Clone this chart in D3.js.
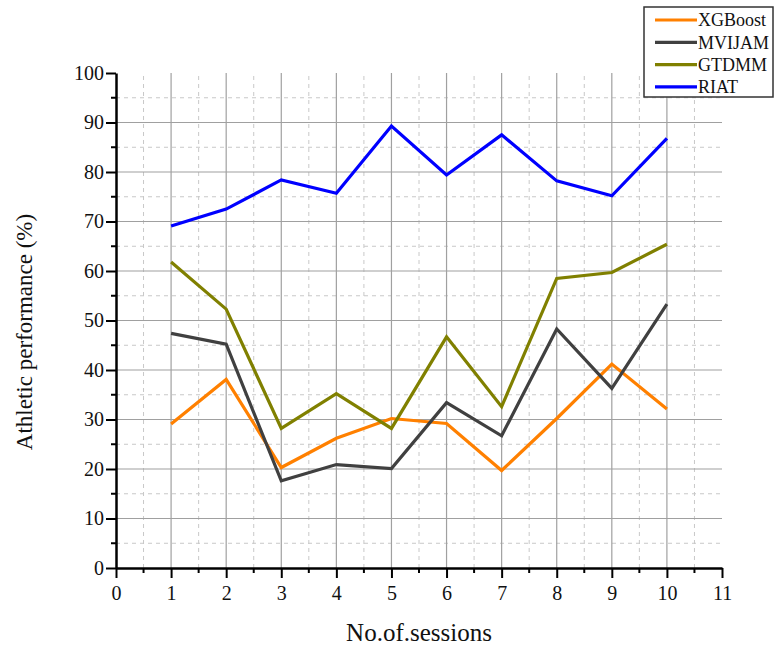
<!DOCTYPE html>
<html>
<head>
<meta charset="utf-8">
<script src="https://cdn.jsdelivr.net/npm/d3@7"></script>
<style>
  body { margin: 0; background: #fff; }
  svg text { font-family: "Liberation Serif", "DejaVu Serif", serif !important; }
</style>
</head>
<body>
<div id="chart"></div>
<script>
// Data
const sessions = [1, 2, 3, 4, 5, 6, 7, 8, 9, 10]
const xgboost = [29.1, 38.1, 20.3, 26.2, 30.2, 29.2, 19.7, 30.2, 41.2, 32.1]
const mvijam = [47.4, 45.2, 17.6, 20.9, 20.1, 33.4, 26.7, 48.3, 36.3, 53.3]
const gtdmm = [61.8, 52.3, 28.2, 35.2, 28.2, 46.7, 32.6, 58.5, 59.7, 65.4]
const riat = [69.1, 72.5, 78.4, 75.7, 89.3, 79.4, 87.5, 78.2, 75.2, 86.8]
const seriesNames = ['XGBoost', 'MVIJAM', 'GTDMM', 'RIAT']
const seriesColors = ['#ff8000', '#404040', '#808000', '#0000ff']
const xTicks = [0, 1, 2, 3, 4, 5, 6, 7, 8, 9, 10, 11]
const yTicks = [0, 10, 20, 30, 40, 50, 60, 70, 80, 90, 100]

const series = [xgboost, mvijam, gtdmm, riat]

const width = 774
const height = 648
const margin = { top: 73, right: 52, bottom: 80, left: 116 }

const svg = d3.select('#chart')
  .append('svg')
    .attr('width', width)
    .attr('height', height)

const x = d3.scaleLinear().domain([0, 11]).range([margin.left, width - margin.right])
const y = d3.scaleLinear().domain([0, 100]).range([height - margin.bottom, margin.top])

// Grid: minor dashed, then major solid
const minorX = d3.range(0.5, 11, 1)
const minorY = d3.range(5, 100, 10)

svg.append('g')
  .selectAll('line')
  .data(minorX)
  .enter()
  .append('line')
    .attr('x1', d => x(d)).attr('x2', d => x(d))
    .attr('y1', y(0)).attr('y2', y(100))
    .attr('stroke', '#c8c8c8')
    .attr('stroke-dasharray', '4,4')

svg.append('g')
  .selectAll('line')
  .data(minorY)
  .enter()
  .append('line')
    .attr('x1', x(0)).attr('x2', x(11))
    .attr('y1', d => y(d)).attr('y2', d => y(d))
    .attr('stroke', '#c8c8c8')
    .attr('stroke-dasharray', '4,4')

svg.append('g')
  .selectAll('line')
  .data(xTicks.filter(d => d > 0 && d < 11))
  .enter()
  .append('line')
    .attr('x1', d => x(d)).attr('x2', d => x(d))
    .attr('y1', y(0)).attr('y2', y(100))
    .attr('stroke', '#a0a0a0')
    .attr('stroke-width', 1.2)

svg.append('g')
  .selectAll('line')
  .data(yTicks.filter(d => d > 0 && d < 100))
  .enter()
  .append('line')
    .attr('x1', x(0)).attr('x2', x(11))
    .attr('y1', d => y(d)).attr('y2', d => y(d))
    .attr('stroke', '#a0a0a0')
    .attr('stroke-width', 1.2)

// Axes
const xAxis = svg.append('g')
  .attr('transform', 'translate(0,' + y(0) + ')')
  .call(d3.axisBottom(x).tickValues(xTicks).tickFormat(d3.format('d')).tickSize(10).tickSizeOuter(0))
xAxis.append('g')
  .selectAll('line')
  .data(minorX)
  .enter()
  .append('line')
    .attr('x1', d => x(d)).attr('x2', d => x(d))
    .attr('y1', 0).attr('y2', 5)
    .attr('stroke', '#000')
    .attr('stroke-width', 2)

const yAxis = svg.append('g')
  .attr('transform', 'translate(' + x(0) + ',0)')
  .call(d3.axisLeft(y).tickValues(yTicks).tickFormat(d3.format('d')).tickSize(10).tickSizeOuter(0))
yAxis.append('g')
  .selectAll('line')
  .data(minorY)
  .enter()
  .append('line')
    .attr('x1', 0).attr('x2', -5)
    .attr('y1', d => y(d)).attr('y2', d => y(d))
    .attr('stroke', '#000')
    .attr('stroke-width', 2)

svg.selectAll('.domain').attr('stroke', '#000').attr('stroke-width', 2.5)
svg.selectAll('.tick line').attr('stroke', '#000').attr('stroke-width', 2)
svg.selectAll('.tick text')
  .attr('font-size', 20)
  .attr('fill', '#111')
xAxis.selectAll('.tick text').attr('dy', '0.95em')
yAxis.selectAll('.tick text').attr('x', -12)

// Axis titles
svg.append('text')
  .attr('x', (x(0) + x(11)) / 2)
  .attr('y', 641)
  .attr('text-anchor', 'middle')
  .attr('font-size', 25)
  .attr('fill', '#111')
  .text('No.of.sessions')

svg.append('text')
  .attr('transform', 'translate(32,332) rotate(-90)')
  .attr('text-anchor', 'middle')
  .attr('font-size', 23)
  .attr('fill', '#111')
  .text('Athletic performance (%)')

// Lines
const line = d3.line()
  .x((d, i) => x(sessions[i]))
  .y(d => y(d))

svg.append('g')
  .selectAll('path')
  .data(series)
  .enter()
  .append('path')
    .attr('d', d => line(d))
    .attr('fill', 'none')
    .attr('stroke', (d, i) => seriesColors[i])
    .attr('stroke-width', 3.2)
    .attr('stroke-linejoin', 'miter')

// Legend
const legend = svg.append('g')
  .attr('transform', 'translate(644,7)')

legend.append('rect')
  .attr('width', 129)
  .attr('height', 90)
  .attr('fill', '#fff')
  .attr('stroke', '#333')
  .attr('stroke-width', 1.5)

const item = legend.selectAll('.item')
  .data(seriesNames)
  .enter()
  .append('g')
    .attr('class', 'item')
    .attr('transform', (d, i) => 'translate(0,' + (13 + i * 22.3) + ')')

item.append('line')
  .attr('x1', 11).attr('x2', 53)
  .attr('stroke', (d, i) => seriesColors[i])
  .attr('stroke-width', 3.2)

item.append('text')
  .attr('x', 54)
  .attr('dy', '0.35em')
  .attr('font-size', 18)
  .attr('fill', '#111')
  .text(d => d)
</script>
</body>
</html>
